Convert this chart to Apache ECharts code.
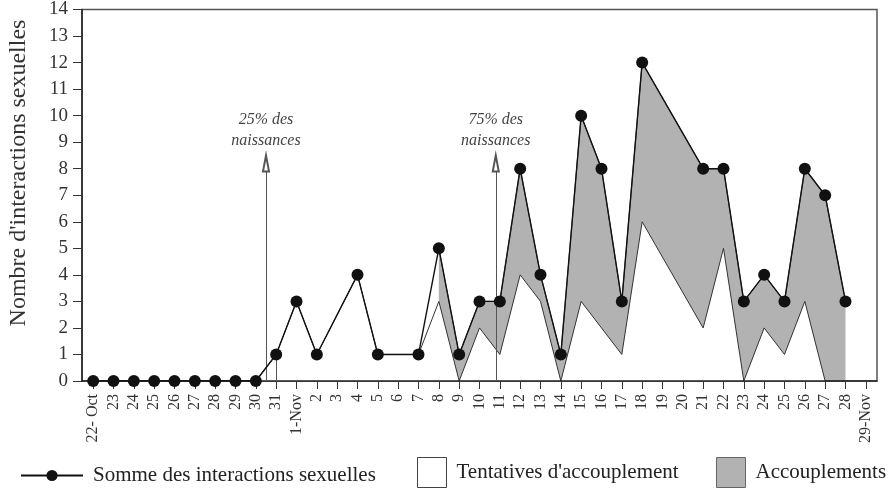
<!DOCTYPE html>
<html><head><meta charset="utf-8">
<script src="https://cdn.jsdelivr.net/npm/echarts@6/dist/echarts.min.js"></script>
<style>html,body{margin:0;padding:0;background:#fff}#c{width:889px;height:494px}</style>
</head><body><div id="c"></div>
<script>
// Categories: 22 Oct .. 29 Nov (one per day)
const dateLabels = ['22- Oct','23','24','25','26','27','28','29','30','31',
  '1-Nov','2','3','4','5','6','7','8','9','10','11','12','13','14','15','16','17','18','19','20',
  '21','22','23','24','25','26','27','28','29-Nov'];
// Somme des interactions sexuelles (null = no observation)
const somme = [0,0,0,0,0,0,0,0,0,1,
  3,1,null,4,1,null,1,5,1,3,3,8,4,1,10,8,3,12,null,null,
  8,8,3,4,3,8,7,3,null];
// Tentatives d'accouplement (lower band)
const tentatives = [0,0,0,0,0,0,0,0,0,1,
  3,1,null,4,1,null,1,3,0,2,1,4,3,0,3,2,1,6,null,null,
  2,5,0,2,1,3,0,0,null];
// Accouplements (band on top of tentatives)
const accouplements = [null,null,null,null,null,null,null,null,null,null,
  null,null,null,null,null,null,null,2,1,1,2,4,1,1,7,6,2,6,null,null,
  6,3,3,2,2,5,7,3,null];
// Births markers (position on the day axis)
const birthMarkers = [
  {pos: 8.5, top: 8.2, text: '25% des\nnaissances'},
  {pos: 19.8, top: 8.2, text: '75% des\nnaissances'}
];

const FONT = '"Liberation Serif","Times New Roman",serif';
const pairs = arr => arr.map((v,i) => v == null ? null : [i, v]).filter(Boolean);
const accTop = accouplements.map((a,i) => a == null ? null : tentatives[i] + a);
const dayIdx = dateLabels.map((_, i) => i);

const markerLines = birthMarkers.map(m => [
  {coord: [m.pos, 0], symbol: 'none', label: {show: true, formatter: m.text}},
  {coord: [m.pos, m.top], symbol: 'emptyTriangle', symbolSize: [6, 16], label: {show: true, formatter: m.text}}
]);
markerLines.push([
  {coord: [9, 0], symbol: 'none', label: {show: false}},
  {coord: [9, somme[9]], symbol: 'none', label: {show: false}}
]);

const legendText = {fontFamily: FONT, fontSize: 21, color: '#222', padding: [0, 0, 0, 5]};
const GRAY = '#b2b2b2';

const chart = echarts.init(document.getElementById('c'), null, {renderer: 'canvas'});
chart.setOption({
  animation: false,
  backgroundColor: '#fff',
  grid: {left: 82, right: 12, top: 9, bottom: 113, show: true, borderColor: '#555', borderWidth: 1.5, backgroundColor: 'transparent'},
  xAxis: {
    type: 'value', min: -0.55, max: 38.55, z: 4,
    axisLine: {onZero: false, lineStyle: {color: '#222', width: 1.5}},
    axisTick: {show: true, length: 8, customValues: dayIdx, lineStyle: {color: '#333'}},
    axisLabel: {customValues: dayIdx, rotate: 90, formatter: v => dateLabels[v], fontFamily: FONT, fontSize: 16, color: '#333', margin: 13},
    splitLine: {show: false}
  },
  yAxis: {
    type: 'value', min: 0, max: 14, interval: 1,
    axisLine: {show: true, onZero: false, lineStyle: {color: '#222', width: 1.5}},
    axisTick: {show: true, length: 9, lineStyle: {color: '#333'}},
    axisLabel: {fontFamily: FONT, fontSize: 19, color: '#333', margin: 14},
    splitLine: {show: false}
  },
  graphic: [{
    type: 'text', x: 19, y: 173, rotation: Math.PI / 2,
    style: {text: "Nombre d'interactions sexuelles", font: '24px ' + FONT, fill: '#333', align: 'center', verticalAlign: 'middle'}
  }],
  legend: [
    {data: ['Somme des interactions sexuelles'], left: 20, top: 465, padding: 0, itemWidth: 62, itemHeight: 14,
     textStyle: legendText},
    {data: [{name: "Tentatives d'accouplement", icon: 'rect', itemStyle: {color: '#fff', borderColor: '#444', borderWidth: 1}}],
     left: 417, top: 457, padding: 0, itemWidth: 29, itemHeight: 30, textStyle: legendText},
    {data: [{name: 'Accouplements', icon: 'rect', itemStyle: {color: GRAY, borderColor: '#666', borderWidth: 1}}],
     left: 716, top: 457, padding: 0, itemWidth: 29, itemHeight: 30, textStyle: legendText}
  ],
  series: [
    {name: 'Accouplements', type: 'line', data: pairs(accTop), symbol: 'none', z: 2,
     lineStyle: {color: '#444', width: 1}, itemStyle: {color: GRAY},
     areaStyle: {color: GRAY, opacity: 1}},
    {name: "Tentatives d'accouplement", type: 'line', data: pairs(tentatives), symbol: 'none', z: 3,
     lineStyle: {color: '#333', width: 1}, itemStyle: {color: '#fff'},
     areaStyle: {color: '#fff', opacity: 1}},
    {name: 'Somme des interactions sexuelles', type: 'line', data: pairs(somme), z: 6,
     symbol: 'circle', symbolSize: 12, itemStyle: {color: '#111'}, lineStyle: {color: '#111', width: 1.4},
     markLine: {
       silent: true, animation: false, symbol: ['none', 'none'],
       lineStyle: {color: '#555', width: 1, type: 'solid'},
       label: {show: false, position: 'end', distance: 12, fontFamily: FONT, fontStyle: 'italic', fontSize: 16, color: '#444', lineHeight: 21, align: 'center'},
       emphasis: {disabled: true},
       data: markerLines
     }}
  ]
});
</script></body></html>
